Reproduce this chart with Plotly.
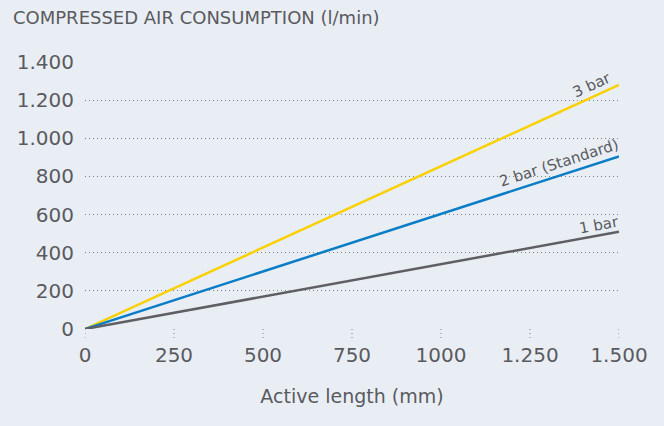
import plotly.graph_objects as go

x_len = [0, 250, 500, 750, 1000, 1250, 1500]
bar3 = [0, 213, 427, 640, 853, 1067, 1280]
bar2 = [0, 151, 302, 453, 603, 754, 905]
bar1 = [0, 85, 170, 255, 340, 425, 510]

x_ticks = [0, 250, 500, 750, 1000, 1250, 1500]
x_ticktext = ["0", "250", "500", "750", "1000", "1.250", "1.500"]
y_ticks = [0, 200, 400, 600, 800, 1000, 1200, 1400]
y_ticktext = ["0", "200", "400", "600", "800", "1.000", "1.200", "1.400"]

labels = ["3 bar", "2 bar (Standard)", "1 bar"]
label_x = [1424, 1331, 1444]
series = [bar3, bar2, bar1]
colors = ["#f9d000", "#0a7dc6", "#5f5f63"]
angles = [-24.5, -17.9, -10.3]
shifts = [12, 13, 10]

BG = "#e9eef5"
TXT = "#5a5a5e"
FONT = "DejaVu Sans"

fig = go.Figure()
for name, ys, c in zip(labels, series, colors):
    fig.add_trace(go.Scatter(x=x_len, y=ys, mode="lines", name=name,
                             line=dict(color=c, width=2.5), cliponaxis=False,
                             showlegend=False))

for name, ys, lx, ang, sh in zip(labels, series, label_x, angles, shifts):
    ly = ys[-1] * lx / x_len[-1]
    fig.add_annotation(x=lx, y=ly, text=name, showarrow=False, textangle=ang,
                       xanchor="center", yanchor="middle", yshift=sh,
                       font=dict(family=FONT, size=15, color=TXT))

for t in x_ticks:
    fig.add_shape(type="line", xref="x", yref="paper", x0=t, x1=t, y0=0, y1=-0.045,
                  line=dict(color="#7d7d82", width=1, dash="1px,3px"))

fig.update_layout(
    width=664, height=426,
    paper_bgcolor=BG, plot_bgcolor=BG,
    margin=dict(l=85, r=45, t=62, b=97),
    font=dict(family=FONT, color=TXT, size=20),
    title=dict(text="COMPRESSED AIR CONSUMPTION (l/min)", x=13/664, xref="container",
               xanchor="left", y=1-18/426, yref="container", yanchor="middle",
               font=dict(family=FONT, size=18, color=TXT)),
)
fig.update_xaxes(range=[0, 1500], tickvals=x_ticks, ticktext=x_ticktext,
                 showgrid=False, zeroline=False, showline=False,
                 ticks="outside", ticklen=8, tickcolor="rgba(0,0,0,0)",
                 tickfont=dict(size=20, color=TXT),
                 title=dict(text="Active length (mm)", standoff=23,
                            font=dict(size=19, color=TXT)))
fig.update_yaxes(range=[0, 1400], tickvals=y_ticks, ticktext=y_ticktext,
                 showgrid=True, gridcolor="#7d7d82", griddash="1px,3px", gridwidth=1,
                 zeroline=False, showline=False, ticks="", ticklabelstandoff=10,
                 tickfont=dict(size=20, color=TXT))

fig.write_html("out.html", config={"displayModeBar": False},
               post_script="document.body.style.margin='0';")
